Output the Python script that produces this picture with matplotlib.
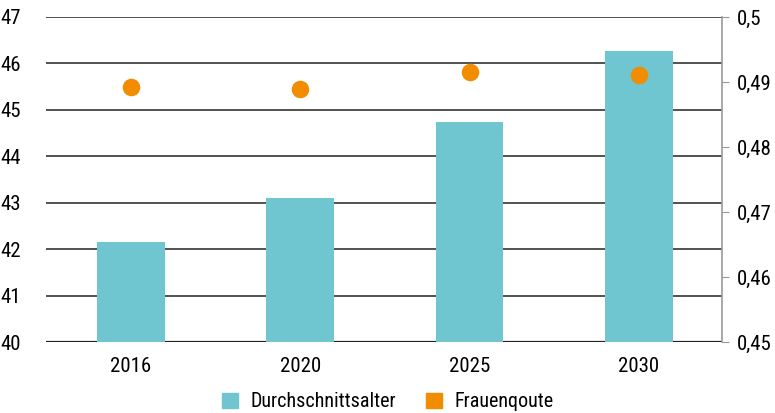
import matplotlib
matplotlib.use("Agg")
from matplotlib import pyplot as plt
from matplotlib.patches import Patch

plt.rcParams['font.family'] = ['Roboto Condensed', 'DejaVu Sans']

years = ['2016', '2020', '2025', '2030']
durchschnittsalter = [42.15, 43.10, 44.74, 46.27]
frauenquote = [0.4892, 0.4889, 0.4915, 0.4911]
left_ticks = [40, 41, 42, 43, 44, 45, 46, 47]
right_ticks = [0.45, 0.46, 0.47, 0.48, 0.49, 0.5]
right_labels = ['0,45', '0,46', '0,47', '0,48', '0,49', '0,5']

bar_color = '#6FC6D1'
dot_color = '#F28C00'

fig = plt.figure(figsize=(7.75, 4.13), dpi=100)
ax = fig.add_axes([46 / 775, 1 - 342 / 413, 676 / 775, 325 / 413])
x = range(len(years))

# Gitterlinien hinter den Balken
for t in left_ticks:
    ax.axhline(t, color='#222222', lw=1.1 if t > 40 else 1.6, zorder=1)
ax.bar(x, durchschnittsalter, width=0.4, color=bar_color, zorder=2)
ax.set_ylim(40, 47)
ax.set_xlim(-0.5, 3.49)
ax.set_yticks(left_ticks)
ax.set_xticks(list(x))
ax.set_xticklabels(years)
ax.tick_params(axis='y', length=0, labelsize=15, pad=18)
ax.tick_params(axis='x', length=0, labelsize=15, pad=11)
for s in ['top', 'left', 'right', 'bottom']:
    ax.spines[s].set_visible(False)

# zweite Achse fuer die Frauenquote
ax2 = ax.twinx()
ax2.scatter(x, frauenquote, s=135, color=dot_color, zorder=3)
ax2.set_ylim(0.45, 0.5)
ax2.set_yticks(right_ticks)
ax2.set_yticklabels(right_labels)
ax2.tick_params(axis='y', length=5, color='#999999', labelsize=15, pad=6)
for s in ['top', 'left', 'bottom']:
    ax2.spines[s].set_visible(False)
ax2.spines['right'].set_color('#999999')
ax2.spines['right'].set_linewidth(1.2)

handles = [Patch(color=bar_color, label='Durchschnittsalter'),
           Patch(color=dot_color, label='Frauenqoute')]
fig.legend(handles=handles, loc='center', ncol=2, frameon=False,
           fontsize=14.5, handlelength=0.8, handleheight=0.8,
           bbox_to_anchor=(0.5, 0.027), columnspacing=1.5, handletextpad=0.6)

fig.savefig('out.png', dpi=100)
